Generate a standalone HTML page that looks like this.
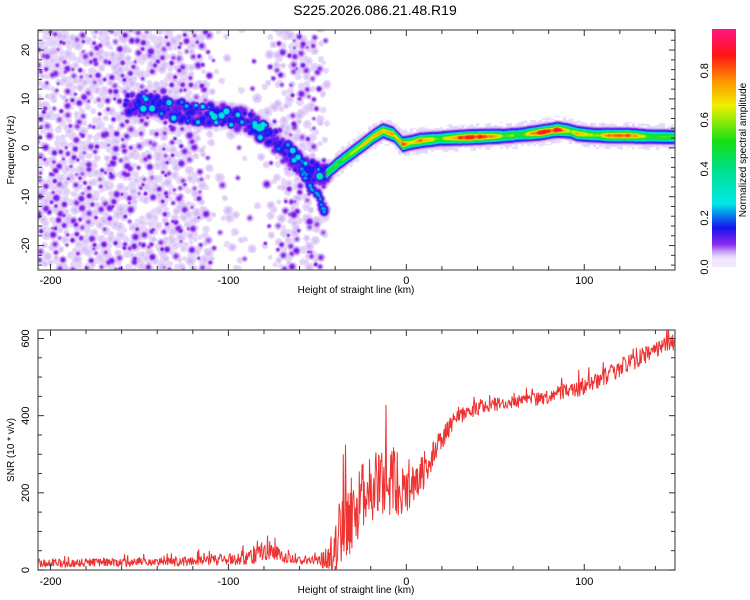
<!DOCTYPE html>
<html><head><meta charset="utf-8">
<style>
html,body{margin:0;padding:0;background:#fff;}
#wrap{position:relative;width:750px;height:600px;font-family:"Liberation Sans",sans-serif;}
canvas{position:absolute;left:38px;top:30px;}
svg{position:absolute;left:0;top:0;}
</style></head><body>
<div id="wrap">
<canvas id="hm" width="637" height="240"></canvas>
<svg id="sv" width="750" height="600"></svg>
</div>
<script>
// ---- data ----
const ridgeH   = [-207,-160,-150,-140,-120,-100,-90,-80,-72,-62,-55,-48,-45,-38,-27,-18,-13,-7,-2,3,8,20,32,45,55,65,75,85,92,96,105,115,125,135,151];
const ridgeF   = [9,9,9.5,8.5,7,6.5,5.5,3.5,1,-3,-4.5,-5.5,-5.2,-3,0,2.5,3.6,2.8,0.8,1.2,1.6,2,2.2,2.4,2.5,2.8,3.2,3.8,3.5,3,2.7,2.6,2.6,2.4,2.3];
const ridgeAmp = [0,0,0.25,0.28,0.28,0.3,0.32,0.3,0.28,0.25,0.3,0.35,0.45,0.55,0.62,0.7,0.72,0.7,0.82,0.6,0.75,0.55,0.85,0.88,0.55,0.55,0.85,0.88,0.6,0.8,0.55,0.85,0.85,0.55,0.5];
const branchH  = [-62,-55,-50,-46];
const branchF  = [-3,-7,-9.5,-13];
const noiseH   = [-207,-130,-122,-112,-108,-80,-72,-62,-50,-45,-44,151];
const noiseLvl = [1,1,0.8,0.7,0.1,0.08,0.6,0.85,0.6,0.2,0,0];
const snrH     = [-207,-150,-120,-100,-90,-85,-78,-70,-60,-50,-42,-38,-33,-25,-13,2,10,17,28,43,71,99,118,146,151];
const snrV     = [18,20,22,28,35,45,58,35,25,25,30,80,130,190,230,215,260,320,395,425,440,473,517,585,590];
const snrNoiseAmp = [16,16,18,22,34,42,50,24,14,14,60,140,150,130,130,110,70,45,30,25,25,32,35,32,32];
const xTicks = [-200,-100,0,100];
const fTicks = [-20,-10,0,10,20];
const snrTicks = [0,200,400,600];
const cbTicks = [0.0,0.2,0.4,0.6,0.8];
// ---- scales ----
const X0=38,X1=675,H0=-207,H1=151;
const sx=h=>X0+(h-H0)/(H1-H0)*(X1-X0);
const T0=30,T1=270,F0=-25,F1=24.1;
const sf=f=>T1-(f-F0)/(F1-F0)*(T1-T0);
const B0=330,B1=570,S0=0,S1=622;
const ss=v=>B1-(v-S0)/(S1-S0)*(B1-B0);
const CB0=267,CB1=29,C0=0,C1=0.97;
const sc=v=>CB0-(v-C0)/(C1-C0)*(CB0-CB1);
function interp(xs,ys,x){if(x<=xs[0])return ys[0];for(let i=1;i<xs.length;i++){if(x<=xs[i]){const t=(x-xs[i-1])/(xs[i]-xs[i-1]);return ys[i-1]+t*(ys[i]-ys[i-1]);}}return ys[ys.length-1];}
function hash(a,b){let h=(a*374761393+b*668265263)|0;h=(h^(h>>>13))*1274126177|0;h=h^(h>>>16);return (h>>>0)/4294967295;}
// colormap
const cmS=[0,0.02,0.04,0.07,0.14,0.24,0.38,0.5,0.65,0.75,0.86,1];
const cmC=[[244,236,253],[228,212,250],[196,156,244],[140,40,235],[20,20,240],[0,232,232],[0,224,140],[20,224,20],[240,240,0],[255,150,0],[255,20,20],[255,20,130]];
function cmap(v){if(v<=0)return cmC[0];if(v>=1)return cmC[cmC.length-1];for(let i=1;i<cmS.length;i++){if(v<=cmS[i]){const t=(v-cmS[i-1])/(cmS[i]-cmS[i-1]);const a=cmC[i-1],b=cmC[i];return [a[0]+t*(b[0]-a[0]),a[1]+t*(b[1]-a[1]),a[2]+t*(b[2]-a[2])];}}}
// ---- heatmap ----
(function(){
const cv=document.getElementById('hm'),ctx=cv.getContext('2d');const W=637,H=240;
const img=ctx.createImageData(W,H);const val=new Float32Array(W*H);
function blob(ox,oy,amp,rad){for(let x=Math.floor(ox-rad*2.5);x<=ox+rad*2.5;x++)for(let y=Math.floor(oy-rad*2.5);y<=oy+rad*2.5;y++){if(x<0||y<0||x>=W||y>=H)continue;
  const d2=(x-ox)*(x-ox)+(y-oy)*(y-oy);const c=amp*Math.exp(-d2/(2*rad*rad));const i=y*W+x;if(c>val[i])val[i]=c;}}
const hToPx=h=>(h-H0)/(H1-H0)*W;
for(let px=0;px<W;px++){const h=H0+(px+0.5)/W*(H1-H0);const rf=interp(ridgeH,ridgeF,h);let ra=interp(ridgeH,ridgeAmp,h);
 const rpy=sf(rf)-T0;
 for(let py=0;py<H;py++){const d=(py-rpy);let v=0;
  if(h>=-45){const hb=hash(Math.floor(px/4),7);v=ra*(0.9+0.2*hb)*Math.exp(-d*d/(2*3.4*3.4));
   const halo=0.03*Math.exp(-d*d/(2*9*9))*(0.5+0.9*hash(Math.floor(px/3),Math.floor(py/3)));v=Math.max(v,halo);}
  else if(ra>0){v=Math.min(1,ra/0.28)*0.09*Math.exp(-d*d/(2*8*8))*(0.4+0.8*hash(Math.floor(px/4),Math.floor(py/4)));}
  val[py*W+px]=v;}}
// noise blobs: light layer and dark layer
for(let cx=-1;cx<W/5+1;cx++)for(let cy=-1;cy<H/5+1;cy++){
 const ox=(cx+hash(cx,cy*3+1))*5,oy=(cy+hash(cx*5+2,cy))*5;const h=H0+ox/W*(H1-H0);
 const lvl=interp(noiseH,noiseLvl,h);if(hash(cx*7,cy*11)>lvl*0.62)continue;
 blob(ox,oy,0.018+0.015*hash(cx+3,cy+9),2.2+hash(cx*13,cy*17)*1.6);}
for(let cx=-1;cx<W/8+1;cx++)for(let cy=-1;cy<H/8+1;cy++){
 const ox=(cx+hash(cx+50,cy*3+1))*8,oy=(cy+hash(cx*5+52,cy))*8;const h=H0+ox/W*(H1-H0);
 const lvl=interp(noiseH,noiseLvl,h);if(hash(cx*7+50,cy*11)>lvl*0.7)continue;
 blob(ox,oy,0.06+0.04*hash(cx+53,cy+9),1.4+hash(cx*13+50,cy*17)*1.3);}
// blobby left ridge
for(let i=0;i<300;i++){const h=-158+i*0.38;if(h>-44)break;const rf=interp(ridgeH,ridgeF,h);const ra=interp(ridgeH,ridgeAmp,h);
 const px=hToPx(h);const py=sf(rf)-T0+(hash(i,3)-0.5)*20;const r=hash(i,9);
 blob(px,py,r<0.45?0.1:(r<0.85?0.15:ra*(0.7+0.5*hash(i,4))),1.8+hash(i,5)*1.8);}
// lower branch
for(let i=0;i<40;i++){const h=-62+i*0.42;const bf=interp(branchH,branchF,h);const px=hToPx(h);const py=sf(bf)-T0+(hash(i,33)-0.5)*8;const r=hash(i,39);
 blob(px,py,r<0.6?0.1:0.22,1.8+hash(i,35));}
for(let i=0;i<W*H;i++){const v=val[i];let c;if(v<0.012)c=[255,255,255];else c=cmap(v);img.data[i*4]=c[0];img.data[i*4+1]=c[1];img.data[i*4+2]=c[2];img.data[i*4+3]=255;}
ctx.putImageData(img,0,0);
})();
// ---- svg ----
const NS='http://www.w3.org/2000/svg';const sv=document.getElementById('sv');
function el(t,a,p){const e=document.createElementNS(NS,t);for(const k in a)e.setAttribute(k,a[k]);(p||sv).appendChild(e);return e;}
function txt(s,x,y,sz,anchor,rot){const e=el('text',{x:x,y:y,'font-size':sz,'text-anchor':anchor||'middle',fill:'#000','font-family':'Liberation Sans, sans-serif'});if(rot)e.setAttribute('transform','rotate(-90 '+x+' '+y+')');e.textContent=s;return e;}
let t=txt('S225.2026.086.21.48.R19',375,15,14);


function frame(y0,y1,name){const g=el('g',{});
 
 
 el('rect',{x:X0,y:y0,width:X1-X0,height:y1-y0,fill:'none',stroke:'#555','stroke-width':1.2},g);
 for(let h=-200;h<=150;h+=20){const x=sx(h);const L=(h%100===0)?6:4;el('line',{x1:x,x2:x,y1:y0,y2:y0+L,stroke:'#333'},g);el('line',{x1:x,x2:x,y1:y1,y2:y1-L,stroke:'#333'},g);}
 return g;}
const defs=el('defs',{});
// top
const gt=frame(T0,T1,'spectrogram-frame');
for(let f=-24;f<=24;f+=2){const y=sf(f);const L=(f%10===0)?6:4;el('line',{x1:X0,x2:X0+L,y1:y,y2:y,stroke:'#333'},gt);el('line',{x1:X1,x2:X1-L,y1:y,y2:y,stroke:'#333'},gt);}
xTicks.forEach(h=>{const e=txt(String(h),sx(h),284,11);
 
 });
fTicks.forEach(f=>{const e=txt(String(f),29,sf(f),11,'middle',true);
 
 });
t=txt('Height of straight line (km)',356,293,10);


t=txt('Frequency (Hz)',14,150,10,'middle',true);


// bottom
const cp=el('clipPath',{id:'clipb'},defs);el('rect',{x:X0,y:B0,width:X1-X0,height:B1-B0},cp);
let d='';let n=0;
for(let h=H0;h<=H1;h+=0.3){const base=interp(snrH,snrV,h);const a=interp(snrH,snrNoiseAmp,h);let r=hash(n,99)-0.5;const sp=hash(n,17);let v=base+r*a*1.4;if(sp>0.93)v+=a*1.3*hash(n,5);v=Math.max(2,v);d+=(n?'L':'M')+sx(h).toFixed(1)+','+ss(v).toFixed(1);n++;}
const ln=el('path',{d:d,fill:'none',stroke:'#ee3333','stroke-width':1,'clip-path':'url(#clipb)'});


const gb=frame(B0,B1,'snr-frame');
for(let v=0;v<=620;v+=50){const y=ss(v);const L=(v%200===0)?6:4;el('line',{x1:X0,x2:X0+L,y1:y,y2:y,stroke:'#333'},gb);el('line',{x1:X1,x2:X1-L,y1:y,y2:y,stroke:'#333'},gb);}
xTicks.forEach(h=>{const e=txt(String(h),sx(h),585,11);
 
 });
snrTicks.forEach(v=>{const e=txt(String(v),29,ss(v),11,'middle',true);
 
 });
t=txt('Height of straight line (km)',356,593,10);


t=txt('SNR (10 * v/v)',14,450,10,'middle',true);


// colorbar
const lg=el('linearGradient',{id:'cbg',x1:0,y1:1,x2:0,y2:0},defs);
cmS.forEach((s,i)=>{const c=cmC[i];el('stop',{offset:Math.min(1,s/C1),'stop-color':'rgb('+c.map(Math.round).join(',')+')'},lg);});
const cb=el('rect',{x:712,y:CB1,width:24,height:CB0-CB1-6,fill:'url(#cbg)'});


el('rect',{x:712,y:CB0-6,width:24,height:6,fill:'#f2e8fb'});
cbTicks.forEach(v=>{const e=txt(v.toFixed(1),708,sc(v),11,'middle',true);
 
 });
t=txt('Normalized spectral amplitude',746,150,10,'middle',true);


</script>
</body></html>
